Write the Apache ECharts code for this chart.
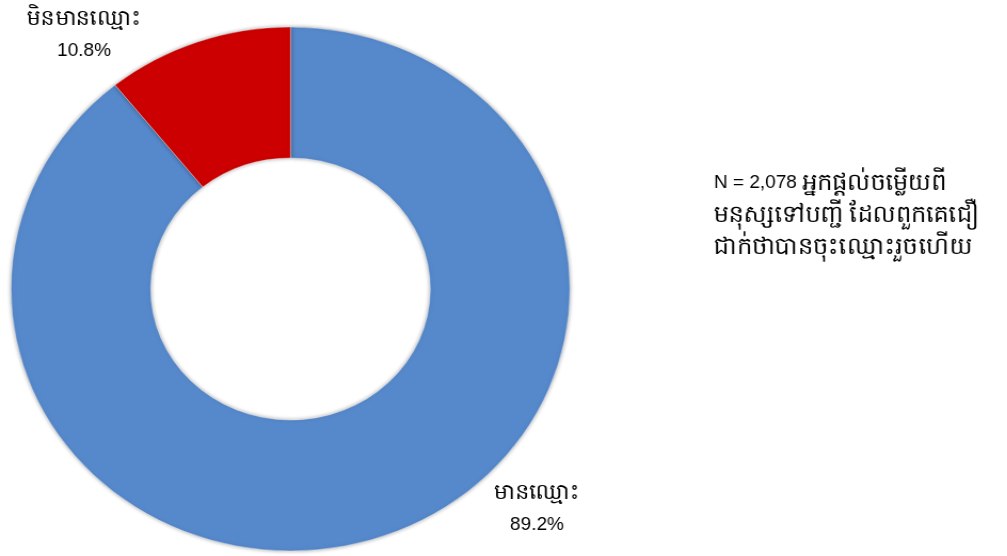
<!DOCTYPE html>
<html>
<head>
<meta charset="utf-8">
<script src="https://cdn.jsdelivr.net/npm/echarts@6/dist/echarts.min.js"></script>
<style>
  html, body { margin: 0; padding: 0; background: #fff; overflow: hidden; }
  /* the original donut is slightly wider than tall, so the canvas is stretched */
  #chart {
    position: absolute; left: 0; top: 0;
    width: 944px; height: 556px;
    transform: scaleX(1.0668); transform-origin: 0 0;
  }
</style>
</head>
<body>
<div id="chart"></div>
<script>
const categories = ["មានឈ្មោះ", "មិនមានឈ្មោះ"]
const percents = [89.2, 10.8]
const sliceColors = ["#5689CB", "#CC0000"]
const noteLines = [
  ["N = 2,078 ", "អ្នកផ្តល់ចម្លើយពី"],
  ["", "មនុស្សទៅបញ្ជី ដែលពួកគេជឿ"],
  ["", "ជាក់ថាបានចុះឈ្មោះរួចហើយ"],
]

const S = 1.0668
const font = "Liberation Sans, Noto Sans, Arial, sans-serif"
const rich = {
  n: { fontFamily: font, fontSize: 19, color: "#404040" },
  kh: { fontFamily: font, fontSize: 22, color: "#404040" },
  kh2: { fontFamily: font, fontSize: 24, color: "#404040" },
}
// label anchors in page pixels, one per category
const labelPos = [[537, 493], [84, 19]]

const text = (x, y, str, align) => ({
  type: "text",
  x: x / S,
  y: y,
  scaleX: 1 / S,
  silent: true,
  style: {
    text: str,
    rich,
    textAlign: align || "center",
    textVerticalAlign: "middle",
  },
})

const graphics = []
categories.forEach((name, i) => {
  const [x, y] = labelPos[i]
  graphics.push(text(x, y, `{kh|${name}}`))
  graphics.push(text(x, y + 32, `{n|${percents[i]}%}`))
})
noteLines.forEach(([num, kh], i) => {
  const str = (num ? `{n|${num}}` : "") + `{kh2|${kh}}`
  graphics.push(text(714, 183 + i * 32, str, "left"))
})

const option = {
  animation: false,
  graphic: graphics,
  series: [
    {
      type: "pie",
      center: [290.5 / S, 289],
      radius: [131, 262],
      startAngle: 90,
      clockwise: true,
      label: { show: false },
      labelLine: { show: false },
      itemStyle: {
        borderColor: "rgba(255,255,255,0.6)",
        borderWidth: 0.6,
        shadowBlur: 4,
        shadowColor: "rgba(0,0,0,0.35)",
      },
      emphasis: { disabled: true },
      data: categories.map((name, i) => ({
        name,
        value: percents[i],
        itemStyle: { color: sliceColors[i] },
      })),
    },
  ],
}

const chart = echarts.init(document.getElementById("chart"))
chart.setOption(option)
</script>
</body>
</html>
